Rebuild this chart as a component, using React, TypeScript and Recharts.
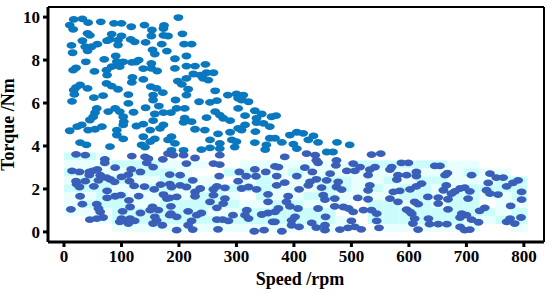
import React from 'react';
import { ScatterChart, Scatter, XAxis, YAxis, ReferenceArea, ReferenceLine } from 'recharts';

// speed (rpm), torque (Nm)
const upperPoints: [number, number][] = [
  [199, 9.98], [32, 9.92], [17, 9.89], [10, 9.63], [16, 9.43], [42, 9.74], [64, 9.78], [87, 9.71], [100, 9.71], [117, 9.55],
  [140, 9.63], [153, 9.4], [174, 9.61], [173, 9.47], [206, 9.22], [152, 9.12], [173, 9.15], [181, 9.12], [41, 9.24], [45, 9.15],
  [83, 9.21], [100, 9.12], [116, 8.96], [123, 8.85], [142, 8.82], [170, 8.74], [13, 8.68], [32, 8.9], [75, 8.9], [80, 8.96],
  [94, 8.93], [94, 8.7], [37, 8.62], [48, 8.62], [58, 8.74], [41, 8.43], [15, 8.34], [154, 8.47], [158, 8.28], [179, 8.42],
  [209, 8.74], [222, 8.74], [90, 8.19], [70, 8.03], [193, 8.06], [213, 8.19], [38, 7.92], [92, 7.92], [118, 7.89], [130, 8.0],
  [125, 7.91], [152, 7.84], [103, 7.92], [97, 7.69], [83, 7.69], [74, 7.53], [21, 7.64], [16, 7.53], [53, 7.47], [75, 7.3],
  [138, 7.6], [152, 7.61], [162, 7.49], [193, 7.61], [213, 7.72], [228, 7.72], [246, 7.8], [225, 7.35], [237, 7.3], [248, 7.41],
  [260, 7.41], [242, 7.15], [251, 7.07], [119, 7.19], [118, 6.96], [138, 7.1], [198, 7.02], [205, 6.87], [213, 7.15], [74, 6.91],
  [83, 6.79], [94, 6.64], [28, 6.84], [21, 6.73], [17, 6.6], [41, 6.68], [18, 6.4], [14, 6.08], [52, 6.25], [68, 6.34],
  [112, 6.39], [151, 6.76], [161, 6.68], [172, 6.48], [155, 6.37], [155, 6.14], [216, 6.64], [213, 6.37], [263, 6.57], [285, 6.37],
  [300, 6.42], [312, 6.37], [303, 6.22], [309, 6.14], [321, 6.06], [194, 6.14], [235, 6.06], [254, 6.03], [266, 6.11], [112, 5.98],
  [142, 5.78], [165, 5.86], [196, 5.75], [210, 5.75], [303, 5.75], [57, 5.75], [54, 5.55], [77, 5.6], [89, 5.75], [97, 5.6],
  [103, 5.36], [121, 5.57], [158, 5.49], [173, 5.55], [186, 5.55], [51, 5.36], [45, 5.21], [104, 5.13], [103, 4.98], [155, 5.18],
  [210, 5.29], [208, 5.1], [222, 5.13], [248, 5.32], [263, 5.6], [271, 5.44], [277, 5.29], [289, 5.18], [315, 5.41], [332, 5.64],
  [344, 5.49], [361, 5.36], [335, 5.29], [335, 5.09], [347, 5.05], [358, 4.9], [10, 4.71], [23, 4.9], [31, 4.98], [42, 4.74],
  [54, 4.78], [66, 4.9], [92, 4.74], [92, 4.51], [103, 4.33], [126, 4.93], [138, 5.02], [150, 4.74], [167, 4.82], [173, 4.98],
  [138, 4.43], [158, 4.33], [187, 4.43], [228, 4.78], [245, 4.74], [268, 4.56], [289, 4.64], [303, 4.82], [315, 4.98], [309, 4.74],
  [333, 4.67], [254, 4.28], [271, 4.12], [292, 4.28], [300, 4.2], [28, 4.16], [39, 4.05], [80, 3.97], [135, 4.05], [150, 4.2],
  [181, 4.28], [193, 4.12], [332, 4.16], [352, 4.05], [358, 4.36], [369, 5.41], [393, 4.51], [405, 4.64], [416, 4.59], [434, 4.47],
  [425, 4.28], [442, 4.17], [475, 4.17], [497, 4.05], [367, 4.36], [379, 4.17], [399, 4.09], [187, 3.8], [208, 3.8], [239, 3.83],
  [254, 3.91], [271, 3.88], [297, 3.95], [350, 3.83], [141, 3.95], [405, 3.88], [457, 3.72], [468, 3.72],
];

const lowerPoints: [number, number][] = [
  [181, 3.64], [190, 3.57], [208, 3.57], [271, 3.57], [21, 3.61], [37, 3.57], [118, 3.53], [71, 3.38], [71, 3.21], [141, 3.49],
  [147, 3.41], [172, 3.38], [213, 3.18], [228, 3.44], [260, 3.18], [271, 3.13], [144, 3.21], [155, 3.02], [89, 2.99], [14, 2.84],
  [27, 2.79], [44, 2.79], [50, 2.84], [58, 2.91], [117, 2.91], [133, 2.79], [184, 2.67], [202, 2.64], [270, 2.6], [305, 2.79],
  [332, 2.91], [351, 2.79], [317, 2.59], [334, 2.59], [44, 2.64], [63, 2.64], [74, 2.53], [80, 2.45], [88, 2.33], [100, 2.56],
  [112, 2.67], [60, 2.4], [21, 2.36], [37, 2.36], [27, 2.09], [22, 2.22], [52, 2.12], [114, 2.36], [122, 2.14], [140, 2.11],
  [184, 2.22], [168, 2.2], [224, 2.4], [187, 2.09], [202, 2.17], [213, 2.09], [237, 2.02], [228, 1.86], [266, 2.12], [260, 1.98],
  [280, 2.05], [303, 2.36], [309, 2.02], [321, 2.09], [335, 1.98], [157, 1.98], [75, 1.91], [173, 1.74], [89, 1.66], [99, 1.71],
  [28, 1.66], [75, 1.58], [113, 1.47], [130, 1.67], [184, 1.58], [196, 1.63], [228, 1.66], [260, 1.71], [280, 1.55], [179, 1.55],
  [254, 1.4], [277, 1.32], [355, 1.75], [355, 1.4], [32, 1.29], [57, 1.29], [60, 1.09], [63, 0.93], [12, 1.05], [115, 1.16],
  [102, 0.96], [133, 0.88], [154, 1.16], [150, 1.01], [164, 1.01], [186, 1.19], [216, 0.96], [266, 1.12], [318, 1.01], [315, 0.78],
  [321, 0.62], [344, 0.81], [355, 0.88], [239, 0.88], [231, 0.78], [186, 0.85], [196, 0.7], [158, 0.7], [161, 0.54], [184, 0.78],
  [222, 0.51], [216, 0.31], [224, 0.11], [45, 0.57], [57, 0.62], [68, 0.67], [100, 0.62], [97, 0.47], [112, 0.39], [123, 0.51],
  [155, 0.39], [171, 0.31], [196, 0.08], [268, 0.12], [266, 0.57], [276, 0.57], [286, 0.51], [294, 0.78], [331, 0.03], [348, 0.08],
  [363, 0.47], [115, 0.62], [106, 0.51], [422, 3.64], [437, 3.57], [439, 3.33], [442, 3.22], [535, 3.6], [551, 3.64], [474, 3.33],
  [473, 3.1], [503, 3.18], [515, 3.02], [492, 2.84], [506, 2.84], [541, 3.02], [532, 2.9], [529, 2.64], [570, 3.02], [567, 2.9],
  [587, 3.21], [599, 3.21], [645, 3.07], [654, 3.07], [667, 2.74], [663, 2.64], [709, 2.64], [741, 2.71], [752, 2.53], [764, 2.53],
  [790, 2.4], [781, 2.28], [770, 2.12], [738, 2.28], [796, 1.86], [796, 1.5], [367, 3.05], [373, 3.02], [384, 3.49], [370, 2.6],
  [384, 2.29], [405, 2.6], [419, 2.99], [432, 2.79], [370, 2.17], [409, 1.98], [425, 2.17], [428, 2.33], [439, 2.45], [457, 2.4],
  [463, 2.71], [448, 2.06], [477, 2.33], [474, 2.09], [483, 1.97], [532, 2.17], [529, 1.94], [581, 2.64], [579, 2.43], [596, 2.64],
  [613, 2.79], [613, 2.6], [622, 2.25], [613, 2.12], [602, 1.98], [573, 1.86], [584, 1.91], [665, 2.17], [660, 1.94], [697, 2.06],
  [689, 2.02], [680, 1.89], [674, 1.78], [706, 1.89], [735, 1.94], [741, 1.78], [755, 1.74], [390, 1.66], [387, 1.4], [393, 1.19],
  [407, 1.09], [451, 1.71], [454, 1.5], [471, 1.55], [511, 1.58], [529, 1.52], [567, 1.55], [581, 1.4], [610, 1.4], [616, 1.29],
  [633, 1.63], [651, 1.6], [651, 1.32], [668, 1.52], [703, 1.55], [777, 1.21], [373, 1.09], [367, 0.93], [442, 1.09], [471, 1.19],
  [486, 1.16], [495, 1.09], [503, 0.93], [521, 1.01], [535, 1.01], [544, 0.85], [596, 1.04], [602, 0.93], [605, 0.85], [668, 1.05],
  [732, 1.12], [723, 0.98], [692, 0.85], [700, 0.78], [689, 0.67], [709, 0.57], [721, 0.45], [795, 0.67], [776, 0.62], [770, 0.47],
  [784, 0.39], [402, 0.7], [396, 0.54], [396, 0.31], [409, 0.23], [431, 0.42], [439, 0.2], [454, 0.31], [454, 0.08], [455, 0.7],
  [500, 0.51], [480, 0.11], [494, 0.19], [506, 0.23], [517, 0.12], [544, 0.51], [548, 0.19], [610, 0.62], [607, 0.39], [616, 0.11],
  [634, 0.62], [636, 0.36], [651, 0.36], [666, 0.36], [689, 0.23], [697, 0.08], [706, 0.11], [379, 0.03], [367, 0.47],
];

const speedTicks = [0, 100, 200, 300, 400, 500, 600, 700, 800];
const torqueTicks = [0, 2, 4, 6, 8, 10];

// density behind the points, top row first: 0 none, 1 pale, 2 stronger
const heatRows = [
  '22100000000000000000000000000',
  '11122211100111111122222211000',
  '21112221002211211111111112110',
  '12221122110121112211212211122',
  '22211221122221112212122112222',
  '11221111221021122111122122112',
  '12221122222112211102212122011',
  '11122222211222222002222222212',
  '00122222222222222102222221122',
  '00011111111111111100111111001',
];
const heatColors = ['none', '#e9ffff', '#ccfbfc'];
const cellSpeed = 27.8;
const cellTorque = 0.37;

const toRows = (points: [number, number][]) => points.map(([speed, torque]) => ({ speed, torque }));

const Dot = (color: string) => (props: any) => (
  <ellipse cx={props.cx} cy={props.cy} rx={4.9} ry={3.4} fill={color} />
);

const tickStyle = { fontFamily: 'Liberation Serif', fontWeight: 700, fontSize: 17, fill: '#000' };

export default function App() {
  return (
    <div style={{ position: 'absolute', left: 0, top: 0, width: 550, height: 294, background: '#fff' }}>
      <ScatterChart width={550} height={294} margin={{ top: 7, right: 6, bottom: 0, left: 0 }}>
        <XAxis
          type="number"
          dataKey="speed"
          domain={[-27.8, 835]}
          ticks={speedTicks}
          height={52}
          stroke="#000"
          strokeWidth={3}
          tickSize={5}
          tick={tickStyle}
          tickMargin={3}
          label={{
            value: 'Speed /rpm',
            position: 'insideBottom',
            offset: 9,
            dx: 4,
            style: { ...tickStyle, fontSize: 18 },
          }}
        />
        <YAxis
          type="number"
          dataKey="torque"
          domain={[-0.47, 10.47]}
          ticks={torqueTicks}
          width={48}
          stroke="#000"
          strokeWidth={3}
          tickSize={5}
          tick={tickStyle}
          tickMargin={3}
          label={{
            value: 'Torque /Nm',
            angle: -90,
            position: 'insideLeft',
            offset: 8,
            dy: 0,
            style: { ...tickStyle, fontSize: 18, textAnchor: 'middle' },
          }}
        />
        {heatRows.map((row, r) =>
          row.split('').map((level, c) =>
            level === '0' ? null : (
              <ReferenceArea
                key={`${r}-${c}`}
                x1={c * cellSpeed}
                x2={(c + 1) * cellSpeed}
                y1={(heatRows.length - r - 1) * cellTorque}
                y2={(heatRows.length - r) * cellTorque}
                fill={heatColors[Number(level)]}
                fillOpacity={1}
                stroke="none"
              />
            )
          )
        )}
        <ReferenceLine y={10.47} stroke="#000" strokeWidth={2} />
        <ReferenceLine x={835} stroke="#000" strokeWidth={2} />
        <Scatter data={toRows(upperPoints)} shape={Dot('#0a78be')} isAnimationActive={false} />
        <Scatter data={toRows(lowerPoints)} shape={Dot('#3a5fb9')} isAnimationActive={false} />
      </ScatterChart>
    </div>
  );
}
